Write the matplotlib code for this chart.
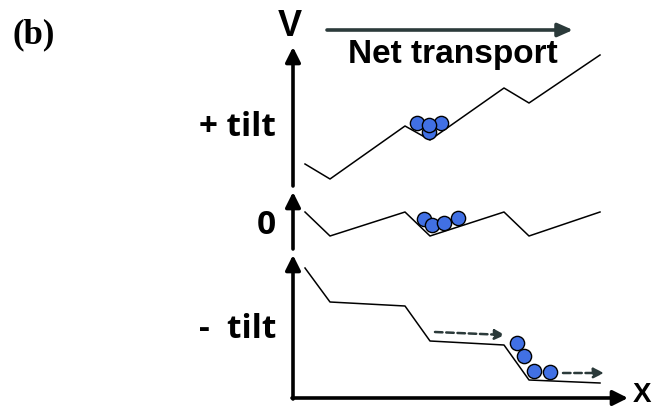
import matplotlib
matplotlib.use("Agg")
import matplotlib.pyplot as plt

# ---- data (schematic coordinates, pixel space of the figure) ----
profile_x = [305, 330, 405, 430, 504, 529, 600]
v_plus_tilt = [164, 179, 126, 140, 88, 103, 55]
v_zero_tilt = [212, 236, 212, 236, 212, 236, 212]
v_minus_tilt = [268, 302, 306, 341, 345, 380, 383]

balls_plus_x = [417, 441, 429, 429]
balls_plus_y = [123, 123, 132, 125]
balls_zero_x = [424, 432, 444, 458]
balls_zero_y = [219, 225, 223, 218]
balls_minus_x = [517, 524, 534, 550]
balls_minus_y = [343, 356, 371, 372]

row_labels = ["+ tilt", "0", "-  tilt"]
row_label_y = [128, 226, 330]

fig = plt.figure(figsize=(6.54, 4.09), dpi=100)
ax = fig.add_axes([0, 0, 1, 1])
ax.set_xlim(0, 654)
ax.set_ylim(409, 0)
ax.axis("off")

ball_color = "#4170e4"
line_kw = dict(color="black", lw=1.1, zorder=2)

# profiles
ax.plot(profile_x, v_plus_tilt, **line_kw)
ax.plot(profile_x, v_zero_tilt, **line_kw)
ax.plot(profile_x, v_minus_tilt, **line_kw)

# balls
for bx, by in [(balls_plus_x, balls_plus_y), (balls_zero_x, balls_zero_y),
               (balls_minus_x, balls_minus_y)]:
    ax.scatter(bx, by, s=105, color=ball_color, edgecolor="black",
               linewidth=1.0, zorder=3)

# axes arrows
ax_kw = dict(arrowstyle="-|>,head_length=0.9,head_width=0.45", color="black",
             lw=2.6, shrinkA=0, shrinkB=0)
ax.annotate("", xy=(293, 47), xytext=(293, 186), arrowprops=ax_kw)
ax.annotate("", xy=(293, 192), xytext=(293, 249), arrowprops=ax_kw)
ax.annotate("", xy=(293, 255), xytext=(293, 399), arrowprops=ax_kw)
ax.annotate("", xy=(628, 398), xytext=(292, 398), arrowprops=ax_kw)

# net transport arrow
ax.annotate("", xy=(573, 30), xytext=(327, 30),
            arrowprops=dict(arrowstyle="-|>,head_length=0.9,head_width=0.4",
                            color="#2b3a3a", lw=2.6, shrinkA=0, shrinkB=0))
ax.text(453, 54, "Net transport", ha="center", va="center",
        fontsize=24, fontweight="bold", family="Liberation Sans")

# dashed arrows
dash_kw = dict(arrowstyle="-|>,head_length=0.6,head_width=0.3",
               color="#2b3a3a", lw=1.8, linestyle=(0, (3, 1.5)),
               shrinkA=0, shrinkB=0)
ax.annotate("", xy=(505, 335), xytext=(435, 332), arrowprops=dash_kw)
ax.annotate("", xy=(604, 373), xytext=(563, 373), arrowprops=dash_kw)

# axis letters
ax.text(290, 27, "V", ha="center", va="center", fontsize=26,
        fontweight="bold", family="Liberation Sans")
ax.text(651, 408, "X", ha="right", va="bottom", fontsize=20,
        fontweight="bold", family="Liberation Sans")

# row labels
for lab, y in zip(row_labels, row_label_y):
    ax.text(276, y, lab, ha="right", va="center", fontsize=24,
            fontweight="bold", family="Open Sans")

ax.text(13, 35, "(b)", ha="left", va="center", fontsize=25,
        fontweight="bold", family="Liberation Serif")

fig.savefig("out.png", dpi=100)
